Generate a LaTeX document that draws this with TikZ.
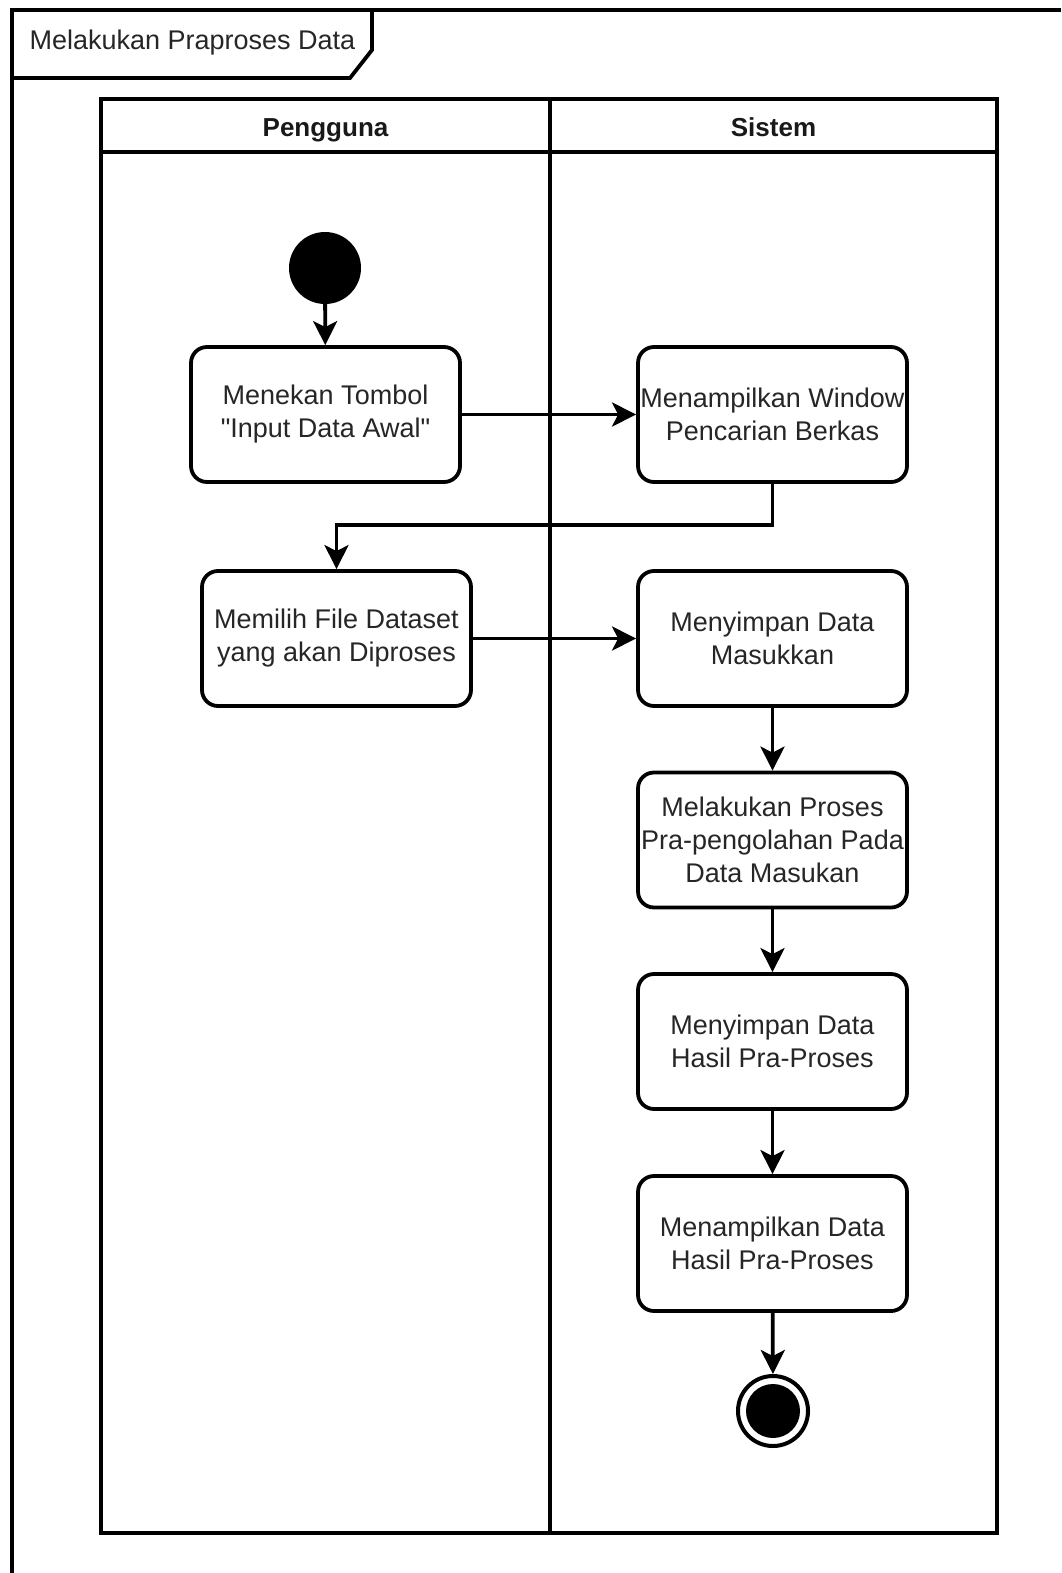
\documentclass[tikz,border=0pt]{standalone}
\usepackage{fontspec}
\setmainfont{Liberation Sans}[Ligatures=TeXOff]
\usetikzlibrary{arrows.meta}
\begin{document}
\begin{tikzpicture}[x=1pt,y=-1pt,
  frameline/.style={line width=3.8pt, line join=miter},
  act/.style={draw, line width=3.8pt, rounded corners=16pt, minimum width=269pt, minimum height=135pt,
    inner sep=0pt, align=center, font=\fontsize{27}{33}\selectfont, text=black!85},
  hdr/.style={anchor=base, font=\fontsize{26}{30}\selectfont\bfseries, text=black!90},
  conn/.style={line width=3.8pt, -{Stealth[length=24pt,width=24pt,inset=6pt]}},
  startnode/.style={circle, fill=black, minimum size=72pt, inner sep=0pt},
]
\useasboundingbox (0,0) rectangle (1061,1573);
\fill[white] (0,0) rectangle (1061,1573);

% outer frame
\draw[frameline] (12,1573) -- (12,10) -- (1061,10);
\draw[frameline] (12,78) -- (350,78) -- (372,50) -- (372,10);
\node[anchor=west, font=\fontsize{27}{30}\selectfont, text=black!85] (title) at (26,43) {Melakukan Praproses Data};

% pool
\draw[line width=4.2pt] (101,99) rectangle (997,1533);
\draw[line width=4.2pt] (101,152) -- (997,152);
\draw[line width=4.2pt] (550,99) -- (550,1533);
\node[hdr] (lane1) at (325.5,137) {Pengguna};
\node[hdr] (lane2) at (773.5,137) {Sistem};

% nodes
\node[startnode] (start) at (325,268) {};
\node[act] (a) at (325.5,414.5) {Menekan Tombol\\"Input Data Awal"};
\node[act] (b) at (772.5,414.5) {Menampilkan Window\\Pencarian Berkas};
\node[act] (c) at (336.5,638.5) {Memilih File Dataset\\yang akan Diproses};
\node[act] (d) at (772.5,638.5) {Menyimpan Data\\Masukkan};
\node[act] (e) at (772.5,840) {Melakukan Proses\\Pra-pengolahan Pada\\Data Masukan};
\node[act] (f) at (772.5,1041.5) {Menyimpan Data\\Hasil Pra-Proses};
\node[act] (g) at (772.5,1243.5) {Menampilkan Data\\Hasil Pra-Proses};
\node[circle, draw, line width=4pt, fill=white, minimum size=70pt, inner sep=0pt] (end) at (773,1411) {};
\fill[black] (end.center) circle (27pt);

\coordinate (mid) at (0,525);

% connectors
\draw[conn] (start) -- (a);
\draw[conn] (a) -- (b);
\draw[conn] (b.south) -- (b.south |- mid) -| (c.north);
\draw[conn] (c) -- (d);
\draw[conn] (d) -- (e);
\draw[conn] (e) -- (f);
\draw[conn] (f) -- (g);
\draw[conn] (g) -- (end);
\end{tikzpicture}
\end{document}
